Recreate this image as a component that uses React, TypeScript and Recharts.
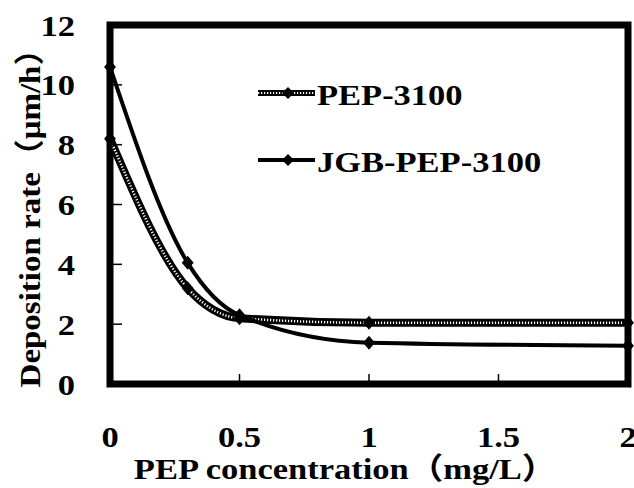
import React from 'react';
import { LineChart, Line, XAxis, YAxis, ReferenceArea, Legend } from 'recharts';

const concentration = [0, 0.3, 0.5, 1, 2];
const pep3100 = [8.2, 3.2, 2.2, 2.05, 2.05];
const jgbPep3100 = [10.6, 4.05, 2.3, 1.38, 1.28];
const xTicks = [0, 0.5, 1, 1.5, 2];
const yTicks = [0, 2, 4, 6, 8, 10, 12];
const seriesNames = ['PEP-3100', 'JGB-PEP-3100'];

const data = concentration.map((c, i) => ({ c, pep: pep3100[i], jgb: jgbPep3100[i] }));

const FONT = "'Liberation Serif', 'Times New Roman', 'Noto Sans CJK SC', serif";

const PLOT_BOTTOM = 384;

const Diamond = (r: number) => (props: any) => {
  const { cx, cy, index } = props;
  if (cx == null || cy == null) return <g key={index} />;
  return (
    <polygon
      key={index}
      points={`${cx},${cy - r} ${cx + r * 0.85},${cy} ${cx},${cy + r} ${cx - r * 0.85},${cy}`}
      fill="#000"
    />
  );
};

const XTick = (props: any) => (
  <g transform={`translate(${props.x},${PLOT_BOTTOM + 52}) scale(1.15,1)`}>
    <text textAnchor="middle" dy="0.35em" fontSize={30} fontWeight="bold" fontFamily={FONT} fill="#000">
      {props.payload.value}
    </text>
  </g>
);

const YTick = (props: any) => (
  <g transform={`translate(${props.x},${props.y}) scale(1.15,1)`}>
    <text textAnchor="end" dy="0.35em" fontSize={30} fontWeight="bold" fontFamily={FONT} fill="#000">
      {props.payload.value}
    </text>
  </g>
);

const XTitle = () => (
  <g transform={`translate(345,${PLOT_BOTTOM + 95}) scale(1.15,1)`}>
    <text textAnchor="middle" fontSize={30} fontWeight="bold" fontFamily={FONT} fill="#000">
      PEP concentration（mg/L）
    </text>
  </g>
);

const YTitle = () => (
  <g transform="translate(40,210) rotate(-90) scale(1.1,1)">
    <text textAnchor="middle" fontSize={30} fontWeight="bold" fontFamily={FONT} fill="#000">
      Deposition rate（μm/h）
    </text>
  </g>
);

const LegendContent = () => (
  <svg width={330} height={120} style={{ overflow: 'visible' }}>
    <g>
      <line x1={5} y1={25} x2={62} y2={25} stroke="#000" strokeWidth={6} />
      <line x1={5} y1={25} x2={62} y2={25} stroke="#fff" strokeWidth={2} strokeDasharray="1.2 1.8" />
      <polygon points="35,19 41,25 35,31 29,25" fill="#000" />
      <g transform="translate(64,37) scale(1.15,1)">
        <text fontSize={30} fontWeight="bold" fontFamily={FONT} fill="#000">{seriesNames[0]}</text>
      </g>
    </g>
    <g>
      <line x1={5} y1={92} x2={62} y2={92} stroke="#000" strokeWidth={4} />
      <polygon points="35,86 41,92 35,98 29,92" fill="#000" />
      <g transform="translate(64,104) scale(1.15,1)">
        <text fontSize={30} fontWeight="bold" fontFamily={FONT} fill="#000">{seriesNames[1]}</text>
      </g>
    </g>
  </svg>
);

export default function App() {
  return (
    <div style={{ position: 'absolute', left: 0, top: 0 }}>
      <LineChart width={634} height={488} data={data} margin={{ top: 25, right: 6, left: 0, bottom: 0 }}>
        <XAxis
          dataKey="c"
          type="number"
          domain={[0, 2]}
          ticks={xTicks}
          axisLine={false}
          tickSize={-10}
          tickMargin={20}
          tickLine={{ stroke: '#000', strokeWidth: 1.5 }}
          tick={<XTick />}
          height={104}
          interval={0}
          label={<XTitle />}
        />
        <YAxis
          type="number"
          domain={[0, 12]}
          ticks={yTicks}
          axisLine={false}
          tickSize={-12}
          tickMargin={47}
          tickLine={{ stroke: '#000', strokeWidth: 1.5 }}
          tick={<YTick />}
          width={110}
          interval={0}
          label={<YTitle />}
        />
        <ReferenceArea x1={0} x2={2} y1={0} y2={12} fill="none" fillOpacity={0} stroke="#000" strokeWidth={7} ifOverflow="visible" />
        <Legend
          layout="vertical"
          align="center"
          verticalAlign="middle"
          content={<LegendContent />}
          wrapperStyle={{ left: 253, top: 68, width: 330, height: 120 }}
        />
        <Line
          dataKey="pep"
          name={seriesNames[0]}
          type="monotone"
          stroke="#000"
          strokeWidth={8}
          dot={false}
          activeDot={false}
          legendType="none"
          isAnimationActive={false}
        />
        <Line
          dataKey="pep"
          name={seriesNames[0] + ' pattern'}
          type="monotone"
          stroke="#fff"
          strokeWidth={2.5}
          strokeDasharray="1.2 1.8"
          dot={Diamond(7)}
          activeDot={false}
          legendType="none"
          isAnimationActive={false}
        />
        <Line
          dataKey="jgb"
          name={seriesNames[1]}
          type="monotone"
          stroke="#000"
          strokeWidth={4}
          dot={Diamond(7)}
          activeDot={false}
          isAnimationActive={false}
        />
      </LineChart>
    </div>
  );
}
